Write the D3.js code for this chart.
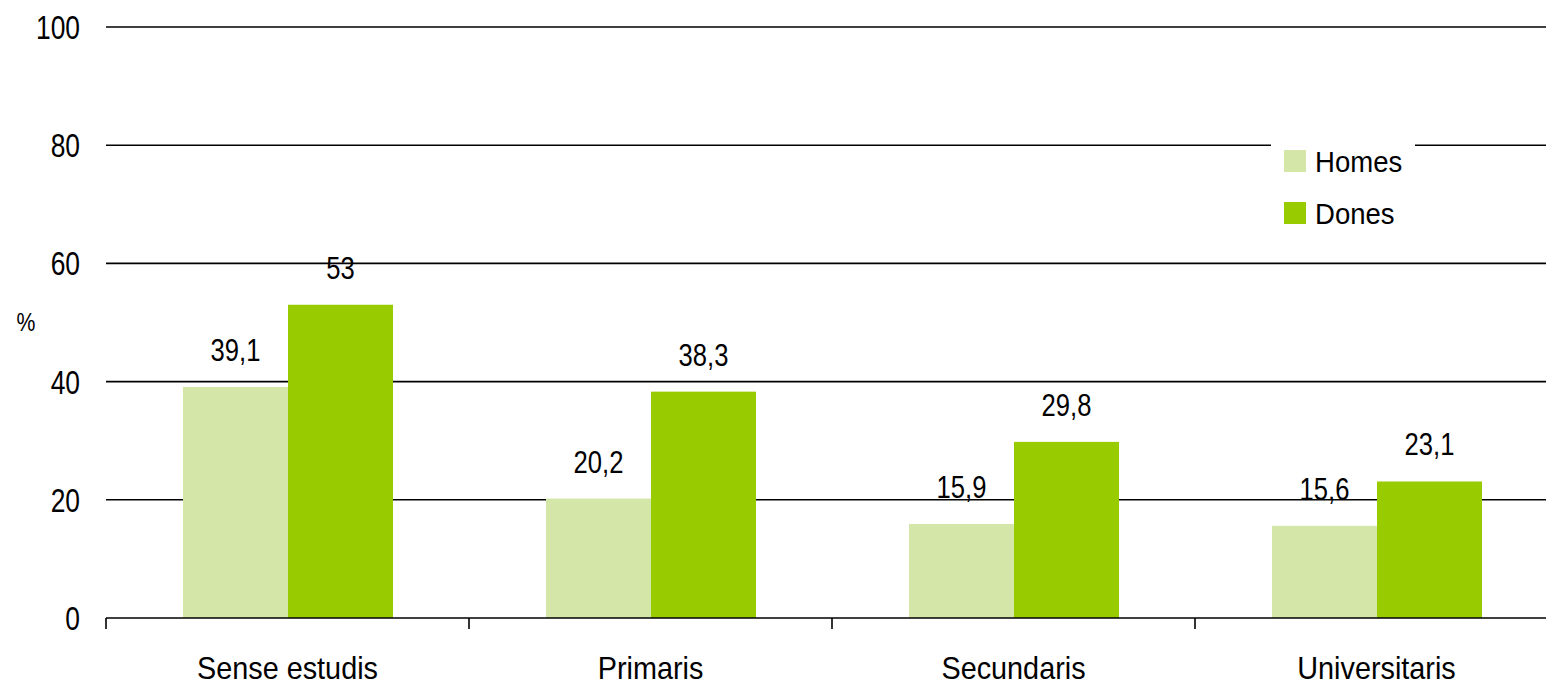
<!DOCTYPE html>
<html>
<head>
<meta charset="utf-8">
<script src="https://cdn.jsdelivr.net/npm/d3@7"></script>
<style>
  body { margin: 0; background: #fff; }
  text { font-family: "Liberation Sans", Arial, sans-serif; }
</style>
</head>
<body>
<svg id="chart" width="1546" height="686"></svg>
<script>
var categories = ["Sense estudis", "Primaris", "Secundaris", "Universitaris"];
var seriesNames = ["Homes", "Dones"];
var homes = [39.1, 20.2, 15.9, 15.6];
var dones = [53, 38.3, 29.8, 23.1];
var yTicks = [0, 20, 40, 60, 80, 100];
var colors = ["#d4e6a8", "#99cc00"];

var svg = d3.select("#chart"),
    margin = {top: 27, right: -12, bottom: 68, left: 106},
    width = +svg.attr("width") - margin.left - margin.right,
    height = +svg.attr("height") - margin.top - margin.bottom,
    g = svg.append("g").attr("transform", "translate(" + margin.left + "," + margin.top + ")");

var data = categories.map(function(c, i) { return {cat: c, values: [homes[i], dones[i]]}; });

var x = d3.scaleBand().domain(categories).range([0, width]);
var x1 = d3.scaleBand().domain(seriesNames).range([77, 77 + 210]);
var y = d3.scaleLinear().domain([0, 100]).range([height, 0]);

// condensed look: squeeze text horizontally
function squeeze(sx) {
  return function(sel) {
    sel.attr("transform", function() {
      var t = d3.select(this);
      var tx = +t.attr("x") || 0, ty = +t.attr("y") || 0;
      t.attr("x", 0).attr("y", 0);
      return "translate(" + tx + "," + ty + ") scale(" + sx + ",1)";
    });
  };
}

// gridlines
g.append("g")
  .selectAll("line")
  .data(yTicks.slice(1))
  .enter().append("line")
    .attr("x1", 0)
    .attr("x2", width)
    .attr("y1", function(d) { return y(d); })
    .attr("y2", function(d) { return y(d); })
    .attr("stroke", "#000")
    .attr("stroke-width", 1.6);

// y tick labels
g.append("g")
  .selectAll("text")
  .data(yTicks)
  .enter().append("text")
    .attr("x", -26)
    .attr("y", function(d) { return y(d) + 12; })
    .attr("text-anchor", "end")
    .attr("font-size", 33)
    .text(function(d) { return d; })
    .call(squeeze(0.8));

svg.append("text")
  .attr("x", 26)
  .attr("y", 331)
  .attr("text-anchor", "middle")
  .attr("font-size", 25)
  .text("%")
  .call(squeeze(0.85));

// bars
var groups = g.append("g")
  .selectAll("g")
  .data(data)
  .enter().append("g")
    .attr("transform", function(d) { return "translate(" + x(d.cat) + ",0)"; });

groups.selectAll("rect")
  .data(function(d) { return d.values.map(function(v, i) { return {key: seriesNames[i], value: v, i: i}; }); })
  .enter().append("rect")
    .attr("x", function(d) { return x1(d.key); })
    .attr("y", function(d) { return y(d.value); })
    .attr("width", x1.bandwidth())
    .attr("height", function(d) { return height - y(d.value); })
    .attr("fill", function(d) { return colors[d.i]; });

groups.selectAll("text")
  .data(function(d) { return d.values.map(function(v, i) { return {key: seriesNames[i], value: v}; }); })
  .enter().append("text")
    .attr("x", function(d) { return x1(d.key) + x1.bandwidth() / 2; })
    .attr("y", function(d) { return y(d.value) - 26; })
    .attr("text-anchor", "middle")
    .attr("font-size", 32)
    .text(function(d) { return String(d.value).replace(".", ","); })
    .call(squeeze(0.8));

// x axis
var xAxis = g.append("g")
  .attr("transform", "translate(0," + height + ")")
  .call(d3.axisBottom(x).tickSize(0).tickPadding(0))
  .call(function(a) { a.select(".domain").remove(); });

xAxis.selectAll("text")
  .attr("font-size", 32)
  .attr("font-family", null)
  .attr("fill", "#000")
  .attr("dy", null)
  .attr("y", 61)
  .call(squeeze(0.9));

xAxis.append("line")
  .attr("x1", 0)
  .attr("x2", width)
  .attr("stroke", "#000")
  .attr("stroke-width", 1.6);

xAxis.selectAll(".sep")
  .data(categories)
  .enter().append("line")
    .attr("class", "sep")
    .attr("x1", function(d) { return x(d); })
    .attr("x2", function(d) { return x(d); })
    .attr("y1", 0)
    .attr("y2", 11)
    .attr("stroke", "#000")
    .attr("stroke-width", 1.6);

// legend
var legend = svg.append("g").attr("transform", "translate(1271,132)");

legend.append("rect")
  .attr("width", 144)
  .attr("height", 100)
  .attr("fill", "#fff");

var item = legend.selectAll(".item")
  .data(seriesNames)
  .enter().append("g")
    .attr("class", "item")
    .attr("transform", function(d, i) { return "translate(13," + (18 + i * 52) + ")"; });

item.append("rect")
  .attr("width", 22)
  .attr("height", 22)
  .attr("fill", function(d, i) { return colors[i]; });

item.append("text")
  .attr("x", 31)
  .attr("y", 22)
  .attr("font-size", 29)
  .text(function(d) { return d; })
  .call(squeeze(0.95));
</script>
</body>
</html>
